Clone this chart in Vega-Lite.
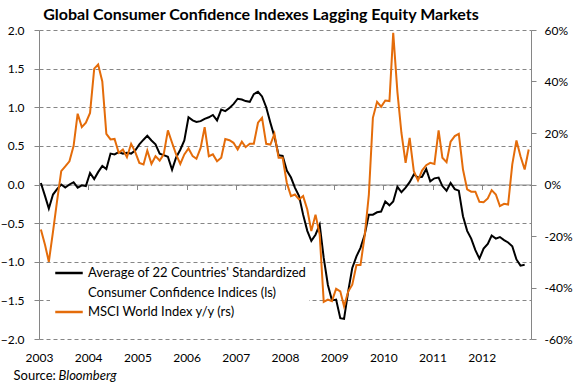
{
  "$schema": "https://vega.github.io/schema/vega-lite/v6.json",
  "width": 492,
  "height": 309,
  "autosize": {"type": "none"},
  "padding": {"left": 39, "top": 30, "right": 46, "bottom": 46},
  "background": "white",
  "config": {"font": "Lato", "view": {"stroke": null}},
  "title": {"text": "Global Consumer Confidence Indexes Lagging Equity Markets", "font": "Lato", "fontSize": 16, "fontWeight": "bold", "color": "#000000", "anchor": "middle", "dx": -24, "dy": 20, "baseline": "alphabetic", "offset": 8},
  "data": {"values": [
    {"d": "2003-01-15", "cc": 0.02, "msci": -17.5},
    {"d": "2003-02-15", "cc": -0.15, "msci": -23.5},
    {"d": "2003-03-15", "cc": -0.31, "msci": -30},
    {"d": "2003-04-15", "cc": -0.13, "msci": -18.3},
    {"d": "2003-05-15", "cc": -0.06, "msci": -6.5},
    {"d": "2003-06-15", "cc": 0.0, "msci": 5.2},
    {"d": "2003-07-15", "cc": -0.04, "msci": 7},
    {"d": "2003-08-15", "cc": 0.0, "msci": 9},
    {"d": "2003-09-15", "cc": 0.03, "msci": 15},
    {"d": "2003-10-15", "cc": -0.04, "msci": 27.5},
    {"d": "2003-11-15", "cc": -0.01, "msci": 22.3},
    {"d": "2003-12-15", "cc": -0.02, "msci": 24},
    {"d": "2004-01-15", "cc": 0.15, "msci": 27.8},
    {"d": "2004-02-15", "cc": 0.07, "msci": 45},
    {"d": "2004-03-15", "cc": 0.16, "msci": 46.6},
    {"d": "2004-04-15", "cc": 0.24, "msci": 40},
    {"d": "2004-05-15", "cc": 0.2, "msci": 19.7},
    {"d": "2004-06-15", "cc": 0.4, "msci": 17.5},
    {"d": "2004-07-15", "cc": 0.39, "msci": 17.7},
    {"d": "2004-08-15", "cc": 0.42, "msci": 12.3},
    {"d": "2004-09-15", "cc": 0.4, "msci": 13.6},
    {"d": "2004-10-15", "cc": 0.41, "msci": 10.6},
    {"d": "2004-11-15", "cc": 0.4, "msci": 15.8},
    {"d": "2004-12-15", "cc": 0.44, "msci": 12.7},
    {"d": "2005-01-15", "cc": 0.52, "msci": 8.4},
    {"d": "2005-02-15", "cc": 0.58, "msci": 7.8},
    {"d": "2005-03-15", "cc": 0.63, "msci": 13.2},
    {"d": "2005-04-15", "cc": 0.57, "msci": 8},
    {"d": "2005-05-15", "cc": 0.52, "msci": 11},
    {"d": "2005-06-15", "cc": 0.4, "msci": 9.3},
    {"d": "2005-07-15", "cc": 0.38, "msci": 11.7},
    {"d": "2005-08-15", "cc": 0.36, "msci": 21},
    {"d": "2005-09-15", "cc": 0.19, "msci": 16.2},
    {"d": "2005-10-15", "cc": 0.35, "msci": 11.7},
    {"d": "2005-11-15", "cc": 0.45, "msci": 8},
    {"d": "2005-12-15", "cc": 0.57, "msci": 11.7},
    {"d": "2006-01-15", "cc": 0.87, "msci": 14},
    {"d": "2006-02-15", "cc": 0.83, "msci": 11},
    {"d": "2006-03-15", "cc": 0.81, "msci": 10},
    {"d": "2006-04-15", "cc": 0.82, "msci": 14.2},
    {"d": "2006-05-15", "cc": 0.85, "msci": 22.3},
    {"d": "2006-06-15", "cc": 0.87, "msci": 11},
    {"d": "2006-07-15", "cc": 0.9, "msci": 11.7},
    {"d": "2006-08-15", "cc": 0.83, "msci": 9},
    {"d": "2006-09-15", "cc": 0.97, "msci": 10.4},
    {"d": "2006-10-15", "cc": 0.95, "msci": 17.7},
    {"d": "2006-11-15", "cc": 0.99, "msci": 17.2},
    {"d": "2006-12-15", "cc": 1.04, "msci": 16.2},
    {"d": "2007-01-15", "cc": 1.11, "msci": 13.6},
    {"d": "2007-02-15", "cc": 1.1, "msci": 16.6},
    {"d": "2007-03-15", "cc": 1.08, "msci": 14.5},
    {"d": "2007-04-15", "cc": 1.07, "msci": 15.8},
    {"d": "2007-05-15", "cc": 1.17, "msci": 15.8},
    {"d": "2007-06-15", "cc": 1.2, "msci": 24},
    {"d": "2007-07-15", "cc": 1.14, "msci": 25.9},
    {"d": "2007-08-15", "cc": 1.0, "msci": 15.8},
    {"d": "2007-09-15", "cc": 0.8, "msci": 15.5},
    {"d": "2007-10-15", "cc": 0.62, "msci": 19.7},
    {"d": "2007-11-15", "cc": 0.38, "msci": 10.4},
    {"d": "2007-12-15", "cc": 0.37, "msci": 10.4},
    {"d": "2008-01-15", "cc": 0.18, "msci": 0.6},
    {"d": "2008-02-15", "cc": 0.09, "msci": -4.5},
    {"d": "2008-03-15", "cc": -0.04, "msci": -3.9},
    {"d": "2008-04-15", "cc": -0.15, "msci": -5.8},
    {"d": "2008-05-15", "cc": -0.39, "msci": -4.5},
    {"d": "2008-06-15", "cc": -0.6, "msci": -9.7},
    {"d": "2008-07-15", "cc": -0.73, "msci": -18.1},
    {"d": "2008-08-15", "cc": -0.65, "msci": -11.7},
    {"d": "2008-09-15", "cc": -0.52, "msci": -19.4},
    {"d": "2008-10-15", "cc": -0.95, "msci": -45.6},
    {"d": "2008-11-15", "cc": -1.3, "msci": -44.7},
    {"d": "2008-12-15", "cc": -1.5, "msci": -45.3},
    {"d": "2009-01-15", "cc": -1.49, "msci": -40.5},
    {"d": "2009-02-15", "cc": -1.73, "msci": -41.5},
    {"d": "2009-03-15", "cc": -1.74, "msci": -47.3},
    {"d": "2009-04-15", "cc": -1.38, "msci": -41.5},
    {"d": "2009-05-15", "cc": -1.08, "msci": -38.9},
    {"d": "2009-06-15", "cc": -0.93, "msci": -31.3},
    {"d": "2009-07-15", "cc": -0.82, "msci": -31.3},
    {"d": "2009-08-15", "cc": -0.65, "msci": -20},
    {"d": "2009-09-15", "cc": -0.39, "msci": -4},
    {"d": "2009-10-15", "cc": -0.39, "msci": 25.9},
    {"d": "2009-11-15", "cc": -0.36, "msci": 32.1},
    {"d": "2009-12-15", "cc": -0.35, "msci": 30.2},
    {"d": "2010-01-15", "cc": -0.22, "msci": 32.6},
    {"d": "2010-02-15", "cc": -0.27, "msci": 32.4},
    {"d": "2010-03-15", "cc": -0.22, "msci": 58.9},
    {"d": "2010-04-15", "cc": -0.03, "msci": 36},
    {"d": "2010-05-15", "cc": -0.1, "msci": 20},
    {"d": "2010-06-15", "cc": -0.04, "msci": 8.4},
    {"d": "2010-07-15", "cc": 0.03, "msci": 18.1},
    {"d": "2010-08-15", "cc": 0.13, "msci": 5.2},
    {"d": "2010-09-15", "cc": 0.09, "msci": 1.6},
    {"d": "2010-10-15", "cc": 0.1, "msci": 5.4},
    {"d": "2010-11-15", "cc": 0.2, "msci": 7.5},
    {"d": "2010-12-15", "cc": 0.04, "msci": 8.4},
    {"d": "2011-01-15", "cc": 0.08, "msci": 8},
    {"d": "2011-02-15", "cc": 0.09, "msci": 21},
    {"d": "2011-03-15", "cc": -0.02, "msci": 10.4},
    {"d": "2011-04-15", "cc": -0.08, "msci": 8.7},
    {"d": "2011-05-15", "cc": 0.02, "msci": 16.6},
    {"d": "2011-06-15", "cc": -0.06, "msci": 18.8},
    {"d": "2011-07-15", "cc": -0.08, "msci": 19.7},
    {"d": "2011-08-15", "cc": -0.41, "msci": 5.8},
    {"d": "2011-09-15", "cc": -0.6, "msci": -1.9},
    {"d": "2011-10-15", "cc": -0.7, "msci": -2.8},
    {"d": "2011-11-15", "cc": -0.85, "msci": -2.8},
    {"d": "2011-12-15", "cc": -0.96, "msci": -6.7},
    {"d": "2012-01-15", "cc": -0.83, "msci": -6.9},
    {"d": "2012-02-15", "cc": -0.77, "msci": -5.4},
    {"d": "2012-03-15", "cc": -0.66, "msci": -2.2},
    {"d": "2012-04-15", "cc": -0.7, "msci": -3.9},
    {"d": "2012-05-15", "cc": -0.68, "msci": -8.4},
    {"d": "2012-06-15", "cc": -0.72, "msci": -7.5},
    {"d": "2012-07-15", "cc": -0.75, "msci": -7.8},
    {"d": "2012-08-15", "cc": -0.8, "msci": 7.8},
    {"d": "2012-09-15", "cc": -0.97, "msci": 17.1},
    {"d": "2012-10-15", "cc": -1.05, "msci": 11},
    {"d": "2012-11-15", "cc": -1.04, "msci": 5.8},
    {"d": "2012-12-15", "cc": null, "msci": 13.6}
  ]},
  "layer": [
    {
      "mark": {"type": "line", "strokeWidth": 2},
      "encoding": {
        "x": {
          "field": "d", "type": "temporal",
          "scale": {"type": "utc", "domain": [{"year": 2003, "month": 1, "date": 1, "utc": true}, {"year": 2013, "month": 1, "date": 1, "utc": true}]},
          "axis": {
            "offset": -154.5,
            "values": [
              {"year": 2003, "month": 1, "date": 1, "utc": true},
              {"year": 2004, "month": 1, "date": 1, "utc": true},
              {"year": 2005, "month": 1, "date": 1, "utc": true},
              {"year": 2006, "month": 1, "date": 1, "utc": true},
              {"year": 2007, "month": 1, "date": 1, "utc": true},
              {"year": 2008, "month": 1, "date": 1, "utc": true},
              {"year": 2009, "month": 1, "date": 1, "utc": true},
              {"year": 2010, "month": 1, "date": 1, "utc": true},
              {"year": 2011, "month": 1, "date": 1, "utc": true},
              {"year": 2012, "month": 1, "date": 1, "utc": true},
              {"year": 2013, "month": 1, "date": 1, "utc": true}
            ],
            "labelExpr": "utcyear(datum.value) == 2013 ? '' : utcFormat(datum.value, '%Y')",
            "grid": false,
            "domainColor": "#868686",
            "tickColor": "#868686",
            "tickSize": 5,
            "labelPadding": 163,
            "labelFont": "Lato",
            "labelFontSize": 12,
            "labelColor": "#000000",
            "labelAngle": 0,
            "labelFlush": false,
            "labelOverlap": false,
            "title": "Bloomberg",
            "titleFont": "Lato",
            "titleFontSize": 13,
            "titleFontWeight": "normal",
            "titleFontStyle": "italic",
            "titleColor": "#000000",
            "titleAlign": "left",
            "titleBaseline": "alphabetic",
            "titleAnchor": "start",
            "titleX": 19,
            "titleY": 195
          }
        },
        "y": {
          "field": "cc", "type": "quantitative",
          "scale": {"domain": [-2, 2], "nice": false, "zero": false},
          "axis": {
            "values": [-2, -1.5, -1, -0.5, 0, 0.5, 1, 1.5, 2],
            "format": ".1f",
            "grid": true,
            "gridDash": [4, 3],
            "gridColor": "#868686",
            "gridWidth": 1,
            "domainColor": "#868686",
            "tickColor": "#868686",
            "tickSize": 5,
            "labelFont": "Lato",
            "labelFontSize": 12,
            "labelColor": "#000000",
            "labelPadding": 10,
            "title": "Source:",
            "titleAngle": 0,
            "titleX": -26,
            "titleY": 349.5,
            "titleAlign": "left",
            "titleBaseline": "alphabetic",
            "titleFont": "Lato",
            "titleFontSize": 13,
            "titleFontWeight": "normal",
            "titleColor": "#000000"
          }
        },
        "color": {
          "datum": "Average of 22 Countries' Standardized",
          "scale": {
            "domain": ["Average of 22 Countries' Standardized", "Consumer Confidence Indices (ls)", "MSCI World Index y/y (rs)"],
            "range": ["#000000", "#ffffff", "#E46C0A"]
          },
          "legend": {
            "orient": "none",
            "legendX": 11,
            "legendY": 234,
            "title": null,
            "fillColor": "white",
            "padding": 2,
            "symbolType": "M-2.5,0H2.5",
            "symbolSize": 121,
            "symbolStrokeWidth": 2.5,
            "symbolOffset": 10,
            "labelOffset": 12,
            "labelFont": "Lato",
            "labelFontSize": 13,
            "labelColor": "#000000",
            "labelLimit": 400,
            "rowPadding": 5.5
          }
        }
      }
    },
    {
      "mark": {"type": "line", "strokeWidth": 2},
      "encoding": {
        "x": {"field": "d", "type": "temporal"},
        "y": {
          "field": "msci", "type": "quantitative",
          "scale": {"domain": [-60, 60], "nice": false, "zero": false},
          "axis": {
            "orient": "right",
            "values": [-60, -40, -20, 0, 20, 40, 60],
            "labelExpr": "datum.value + '%'",
            "grid": false,
            "domainColor": "#868686",
            "tickColor": "#868686",
            "tickSize": 5,
            "labelPadding": 8,
            "labelFont": "Lato",
            "labelFontSize": 12,
            "labelColor": "#000000",
            "title": null
          }
        },
        "color": {"datum": "MSCI World Index y/y (rs)"}
      }
    }
  ],
  "resolve": {"scale": {"y": "independent"}}
}
